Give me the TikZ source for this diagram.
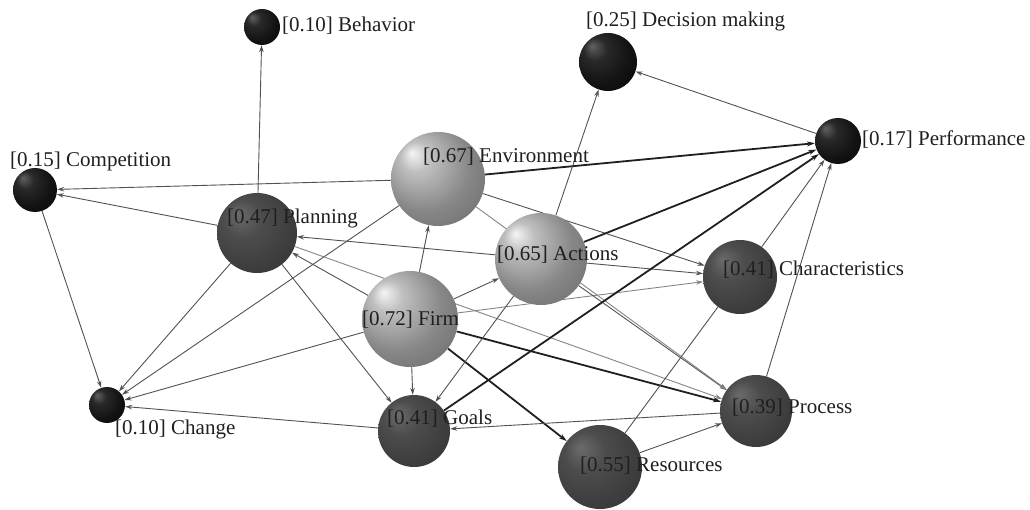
\documentclass[tikz,border=0pt]{standalone}
\usepackage{fontspec}
\setmainfont{Liberation Serif}
\newfontfamily\lblfont{Liberation Serif}
\usetikzlibrary{arrows.meta}
\pgfdeclarelayer{edges}
\pgfsetlayers{edges,main}
\pgfdeclareradialshading{blackball}{\pgfpoint{-14bp}{14bp}}{%
  color(0bp)=(black!62); color(10bp)=(black!84); color(26bp)=(black!93); color(42bp)=(black!97); color(50bp)=(black)}
\pgfdeclareradialshading{darkball}{\pgfpoint{-12bp}{12bp}}{%
  color(0bp)=(black!58); color(12bp)=(black!70); color(30bp)=(black!77); color(45bp)=(black!82); color(50bp)=(black!86)}
\pgfdeclareradialshading{lightball}{\pgfpoint{-14bp}{14bp}}{%
  color(0bp)=(black!4); color(8bp)=(black!25); color(24bp)=(black!47); color(42bp)=(black!60); color(50bp)=(black!68)}
\tikzset{
  ball/.style={circle, inner sep=0pt, draw=none},
  bk/.style={ball, shading=blackball},
  dk/.style={ball, shading=darkball},
  lt/.style={ball, shading=lightball},
  lbl/.style={anchor=base west, inner sep=0pt, font=\lblfont\fontsize{21}{24}\selectfont, text=black!88},
  thin/.style={draw=black!68, line width=0.9pt, -{Stealth[length=7pt,width=4.5pt]}},
  pale/.style={draw=black!48, line width=0.9pt, -{Stealth[length=7pt,width=4.5pt]}},
  plain/.style={draw=black!68, line width=0.9pt},
  heavy/.style={draw=black!88, line width=1.8pt, -{Stealth[length=8pt,width=5pt]}}
}
\begin{document}
\begin{tikzpicture}[x=1pt, y=-1pt]
\useasboundingbox (0,0) rectangle (1030,510);
% spheres
\node[bk, minimum size=36pt] (beh)  at (262,27)  {};
\node[bk, minimum size=58pt] (dec)  at (608,62)  {};
\node[bk, minimum size=46pt] (perf) at (838,141) {};
\node[bk, minimum size=44pt] (comp) at (35,190)  {};
\node[lt, minimum size=94pt] (env)  at (438,179) {};
\node[dk, minimum size=80pt] (plan) at (257,233) {};
\node[lt, minimum size=92pt] (act)  at (541,259) {};
\node[dk, minimum size=74pt] (char) at (740,277) {};
\node[lt, minimum size=96pt] (firm) at (410,319) {};
\node[bk, minimum size=36pt] (chg)  at (107,405) {};
\node[dk, minimum size=72pt] (goal) at (414,431) {};
\node[dk, minimum size=72pt] (proc) at (756,411) {};
\node[dk, minimum size=84pt] (res)  at (600,467) {};
% connectors
\begin{pgfonlayer}{edges}
\draw[thin] (plan) -- (beh);
\draw[thin] (env) -- (comp);
\draw[thin] (plan) -- (comp);
\draw[thin] (comp) -- (chg);
\draw[thin] (plan) -- (chg);
\draw[thin] (env) -- (chg);
\draw[thin] (firm) -- (chg);
\draw[thin] (goal) -- (chg);
\draw[thin] (firm) -- (plan);
\draw[thin] (act) -- (plan);
\draw[pale] (plan) -- (proc);
\draw[thin] (plan) -- (goal);
\draw[thin] (firm) -- (env);
\draw[thin] (firm) -- (act);
\draw[pale] (firm) -- (char);
\draw[thin] (act) -- (char);
\draw[thin] (env) -- (char);
\draw[thin] (firm) -- (goal);
\draw[heavy] (firm) -- (res);
\draw[heavy] (firm) -- (proc);
\draw[thin] (act) -- (proc);
\draw[pale] (env) -- (proc);
\draw[thin] (res) -- (proc);
\draw[thin] (proc) -- (goal);
\draw[thin] (act) -- (goal);
\draw[plain] (res) -- (char);
\draw[heavy] (env) -- (perf);
\draw[heavy] (act) -- (perf);
\draw[heavy] (goal) -- (perf);
\draw[thin] (char) -- (perf);
\draw[thin] (proc) -- (perf);
\draw[thin] (perf) -- (dec);
\draw[thin] (act) -- (dec);
\end{pgfonlayer}
% labels
\node[lbl] (lbeh)  at (282,32)  {[0.10] Behavior};
\node[lbl] (ldec)  at (586,27)  {[0.25] Decision making};
\node[lbl] (lperf) at (862,146) {[0.17] Performance};
\node[lbl] (lcomp) at (10,167)  {[0.15] Competition};
\node[lbl] (lenv)  at (423,163) {[0.67] Environment};
\node[lbl] (lplan) at (227,224) {[0.47] Planning};
\node[lbl] (lact)  at (497,261) {[0.65] Actions};
\node[lbl] (lchar) at (723,276) {[0.41] Characteristics};
\node[lbl] (lfirm) at (362,326) {[0.72] Firm};
\node[lbl] (lchg)  at (115,434) {[0.10] Change};
\node[lbl] (lgoal) at (387,424) {[0.41] Goals};
\node[lbl] (lproc) at (732,413) {[0.39] Process};
\node[lbl] (lres)  at (580,471) {[0.55] Resources};
\end{tikzpicture}
\end{document}
